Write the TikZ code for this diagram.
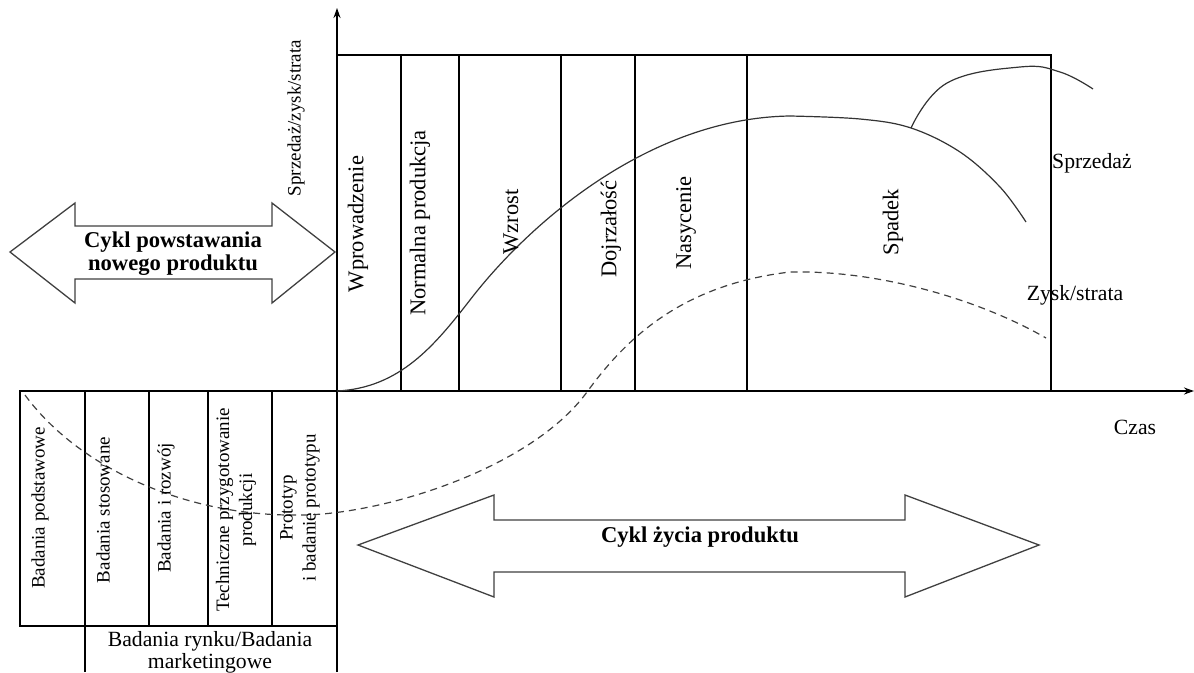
\documentclass[tikz,border=0pt]{standalone}
\usepackage{fontspec}
\setmainfont{Liberation Serif}
\usetikzlibrary{arrows.meta}
\begin{document}
\begin{tikzpicture}[x=1pt,y=-1pt,
  frame/.style={line width=1.4pt,draw=black},
  axisline/.style={line width=1.6pt,draw=black},
  bigarrow/.style={line width=1.3pt,draw=black!75,fill=white},
  curveline/.style={line width=1.2pt,draw=black!80},
  dashline/.style={line width=1.2pt,draw=black!75,dash pattern=on 7pt off 5pt},
  stagelabel/.style={rotate=90,font=\fontsize{22.5}{24}\selectfont,inner sep=0pt},
  boxlabel/.style={rotate=90,font=\fontsize{19}{23}\selectfont,inner sep=0pt,align=center},
  plainlabel/.style={font=\fontsize{21.7}{22}\selectfont,inner sep=0pt,align=center},
  arrowlabel/.style={font=\bfseries\fontsize{22.6}{23}\selectfont,inner sep=0pt,align=center}]
\useasboundingbox (0,0) rectangle (1194,672);
% coordinates
\coordinate (o) at (337,391);
\coordinate (ytip) at (337,8);
\coordinate (xtip) at (1194,391);
\coordinate (ybot) at (337,672);
\coordinate (xleft) at (20,391);
% top stage box
\draw[frame] (337,55) rectangle (1051,391);
\foreach \x in {401,459,561,635,747}{\draw[frame] (\x,55) -- (\x,391);}
% bottom boxes
\draw[frame] (20,391) rectangle (337,626);
\draw[line width=2.6pt] (85,391) -- (85,626);
\foreach \x in {149,208,272}{\draw[frame] (\x,391) -- (\x,626);}
\draw[frame] (85,672) -- (85,626) -- (337,626);
% axes
\draw[axisline,-{Stealth[length=10pt,width=7pt]}] (ybot) -- (ytip);
\draw[axisline,-{Stealth[length=10pt,width=7pt]}] (xleft) -- (xtip);
% sales curve
\coordinate (sA) at (470,300);
\coordinate (sB) at (790,116);
\draw[curveline] (o) .. controls (400,388) and (435,345) .. (sA)
  .. controls (530,222) and (650,118) .. (sB);
\draw[curveline] plot[smooth,tension=0.6] coordinates {(790,116) (860,119) (911,128) (960,152) (1000,187) (1026,222)};
\draw[curveline] plot[smooth,tension=0.7] coordinates {(911,128) (947,83) (1020,67) (1060,72) (1093,89)};
% profit curve
\draw[dashline] (25,395) .. controls (80,470) and (190,517) .. (300,515)
  .. controls (380,515) and (530,470) .. (587,392)
  .. controls (625,340) and (680,285) .. (790,272)
  .. controls (880,270) and (980,300) .. (1046,338);
% big arrows
\draw[bigarrow] (10,252) -- (75,203) -- (75,226) -- (272,226) -- (272,203) -- (335,252) -- (272,303) -- (272,279) -- (75,279) -- (75,303) -- cycle;
\node[arrowlabel] (cnp) at (173,254) {Cykl powstawania\\nowego produktu};
\draw[bigarrow] (358,545) -- (494,495) -- (494,520) -- (905,520) -- (905,495) -- (1039,545) -- (905,597) -- (905,572) -- (494,572) -- (494,597) -- cycle;
\node[arrowlabel] (czp) at (700,537) {Cykl życia produktu};
% stage labels
\node[stagelabel] (s1) at (358,224) {Wprowadzenie};
\node[stagelabel] (s2) at (420,223) {Normalna produkcja};
\node[stagelabel] (s3) at (511,222) {Wzrost};
\node[stagelabel] (s4) at (611,229) {Dojrzałość};
\node[stagelabel] (s5) at (686,223) {Nasycenie};
\node[stagelabel] (s6) at (893,222) {Spadek};
% y label
\node[rotate=90,font=\fontsize{19}{20}\selectfont,inner sep=0pt] (ylab) at (296,118) {Sprzedaż/zysk/strata};
% bottom labels
\node[boxlabel] (b1) at (40,508) {Badania podstawowe};
\node[boxlabel] (b2) at (103,510) {Badania stosowane};
\node[boxlabel] (b3) at (166,508) {Badania i rozwój};
\node[boxlabel] (b4) at (236,510) {Techniczne przygotowanie\\produkcji};
\node[boxlabel] (b5) at (300,508) {Prototyp\\i badanie prototypu};
\node[plainlabel] (b6) at (210,652) {Badania rynku/Badania\\marketingowe};
% right labels
\node[plainlabel,anchor=west] (sales) at (1052,163) {Sprzedaż};
\node[plainlabel] (profit) at (1075,295) {Zysk/strata};
\node[plainlabel] (time) at (1135,427) {Czas};
\end{tikzpicture}
\end{document}
